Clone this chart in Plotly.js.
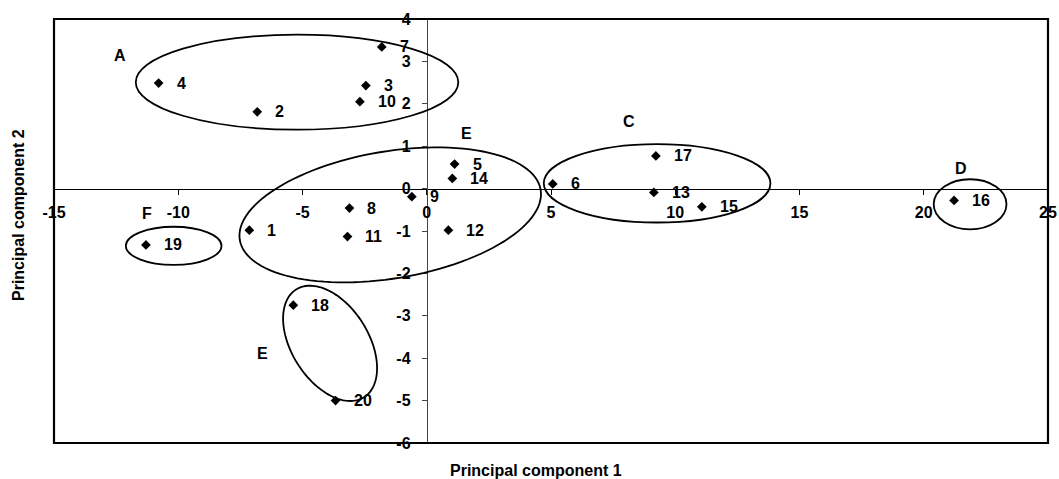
<!DOCTYPE html>
<html>
<head>
<meta charset="utf-8">
<script src="https://cdn.plot.ly/plotly-3.0.1.min.js"></script>
<style>html,body{margin:0;padding:0;background:#fff;}#chart{width:1059px;height:479px;}</style>
</head>
<body>
<div id="chart"></div>
<script>
// ---- data ----
const sampleIds = ['1','2','3','4','5','6','7','8','9','10','11','12','13','14','15','16','17','18','19','20'];
const pc1 = [-7.14, -6.82, -2.45, -10.79, 1.12, 5.07, -1.81, -3.11, -0.6, -2.69, -3.19, 0.87, 9.14, 1.03, 11.07, 21.22, 9.22, -5.37, -11.3, -3.67];
const pc2 = [-0.98, 1.81, 2.43, 2.49, 0.58, 0.11, 3.34, -0.46, -0.19, 2.05, -1.13, -0.98, -0.09, 0.24, -0.43, -0.28, 0.77, -2.75, -1.33, -5.0];

const groupNames = ['A', 'E', 'F', 'C', 'D', 'E'];
const groupX = [-12.35, 1.59, -11.26, 8.14, 21.51, -6.61];
const groupY = [3.13, 1.31, -0.58, 1.58, 0.48, -3.9];

const xTickVals = [-15, -10, -5, 0, 5, 10, 15, 20, 25];
const xTickText = ['-15', '-10', '-5', '0', '5', '10', '15', '20', '25'];
const yTickVals = [-6, -5, -4, -3, -2, -1, 0, 1, 2, 3, 4];
const yTickText = ['-6', '-5', '-4', '-3', '-2', '-1', '0', '1', '2', '3', '4'];

// ---- cluster outlines (decoration) ----
const boxEllipses = [
  {x0: -11.71, x1: 1.27, y0: 1.39, y1: 3.63},   // A
  {x0: 4.71, x1: 13.83, y0: -0.8, y1: 1.05},    // C
  {x0: 20.4, x1: 23.33, y0: -0.96, y1: 0.22},   // D
  {x0: -12.11, x1: -8.26, y0: -1.8, y1: -0.9}   // F
];
const tiltedEllipses = [
  {cx: -1.47, cy: -0.62, a: 152.5, b: 63.5, ang: 9.5},   // big E (a,b in px)
  {cx: -3.89, cy: -3.65, a: 63.7, b: 38.4, ang: -57.8}   // small E
];

const W = 1059, H = 479;
const M = {l: 54, r: 11, t: 19, b: 36};
const plotW = W - M.l - M.r, plotH = H - M.t - M.b;
const xr = [-15, 25], yr = [-6, 4];
const pxX = plotW / (xr[1] - xr[0]), pxY = plotH / (yr[1] - yr[0]);

function ellipsePath(e) {
  const th = e.ang * Math.PI / 180;
  const n = 120;
  let d = '';
  for (let i = 0; i <= n; i++) {
    const t = 2 * Math.PI * i / n;
    const dx = e.a * Math.cos(t) * Math.cos(th) - e.b * Math.sin(t) * Math.sin(th);
    const dy = e.a * Math.cos(t) * Math.sin(th) + e.b * Math.sin(t) * Math.cos(th);
    const x = e.cx + dx / pxX, y = e.cy + dy / pxY;
    d += (i === 0 ? 'M' : 'L') + x.toFixed(4) + ',' + y.toFixed(4);
  }
  return d + 'Z';
}

const FONT = 'Liberation Sans, Arial, Helvetica, sans-serif';
const FS = 16;
const lineStyle = {color: '#000', width: 1.8};

const shapes = [
  {type: 'rect', xref: 'paper', yref: 'paper', x0: 0, x1: 1, y0: 0, y1: 1, line: {color: '#000', width: 2.2}, layer: 'above'}
];
boxEllipses.forEach(e => shapes.push({type: 'circle', xref: 'x', yref: 'y', x0: e.x0, x1: e.x1, y0: e.y0, y1: e.y1, line: lineStyle}));
tiltedEllipses.forEach(e => shapes.push({type: 'path', xref: 'x', yref: 'y', path: ellipsePath(e), line: lineStyle}));

const annotations = [];
sampleIds.forEach((s, i) => annotations.push({
  x: pc1[i], y: pc2[i], xref: 'x', yref: 'y', text: s, showarrow: false,
  xanchor: 'left', yanchor: 'middle', xshift: 16,
  font: {family: FONT, size: FS, color: '#000', weight: 'bold'}
}));
groupNames.forEach((g, i) => annotations.push({
  x: groupX[i], y: groupY[i], xref: 'x', yref: 'y', text: g, showarrow: false,
  xanchor: 'center', yanchor: 'middle',
  font: {family: FONT, size: FS, color: '#000', weight: 'bold'}
}));
annotations.push({
  xref: 'paper', yref: 'paper', x: (536 - M.l) / plotW, y: -(470 - (H - M.b)) / plotH,
  text: 'Principal component 1', showarrow: false, xanchor: 'center', yanchor: 'middle',
  font: {family: FONT, size: FS, color: '#000', weight: 'bold'}
});
annotations.push({
  xref: 'paper', yref: 'paper', x: (18 - M.l) / plotW, y: ((H - M.b) - 215) / plotH,
  text: 'Principal component 2', showarrow: false, xanchor: 'center', yanchor: 'middle', textangle: -90,
  font: {family: FONT, size: FS, color: '#000', weight: 'bold'}
});

const trace = {
  x: pc1, y: pc2, type: 'scatter', mode: 'markers',
  marker: {symbol: 'diamond', size: 7.5, color: '#000'},
  hoverinfo: 'skip'
};

const tickFont = {family: FONT, size: FS, color: '#000', weight: 'bold'};
const layout = {
  width: W, height: H,
  margin: {l: M.l, r: M.r, t: M.t, b: M.b, pad: 0},
  paper_bgcolor: '#fff', plot_bgcolor: '#fff',
  showlegend: false,
  xaxis: {
    range: xr, anchor: 'free', position: (0 - yr[0]) / (yr[1] - yr[0]),
    showgrid: false, zeroline: false, showline: true, linecolor: '#000', linewidth: 1,
    ticks: 'outside', ticklen: 5, tickcolor: '#000', tickwidth: 1,
    tickmode: 'array', tickvals: xTickVals, ticktext: xTickText,
    tickfont: tickFont, ticklabelstandoff: 4, fixedrange: true
  },
  yaxis: {
    range: yr, anchor: 'free', position: (0 - xr[0]) / (xr[1] - xr[0]),
    showgrid: false, zeroline: false, showline: true, linecolor: '#444', linewidth: 1,
    ticks: 'outside', ticklen: 5, tickcolor: '#444', tickwidth: 1,
    tickmode: 'array', tickvals: yTickVals, ticktext: yTickText,
    tickfont: tickFont, ticklabelstandoff: 8, fixedrange: true
  },
  shapes: shapes,
  annotations: annotations
};

Plotly.newPlot('chart', [trace], layout, {displayModeBar: false, staticPlot: true});
</script>
</body>
</html>
